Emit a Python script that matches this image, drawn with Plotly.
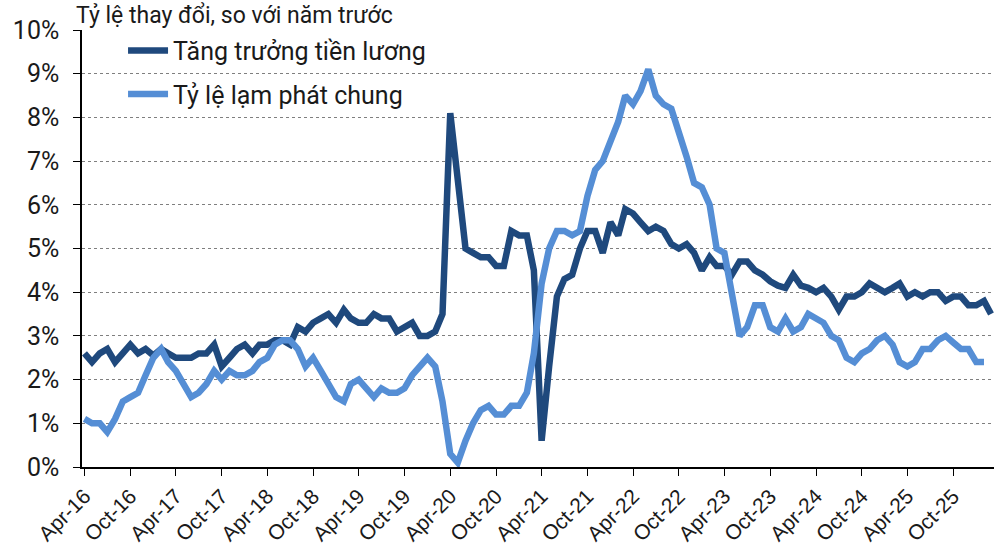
import pandas as pd
import plotly.graph_objects as go

start_month = "2016-04-01"

wage_growth = [
    2.6, 2.4, 2.6, 2.7, 2.4, 2.6, 2.8, 2.6, 2.7, 2.55, 2.7, 2.6,
    2.5, 2.5, 2.5, 2.6, 2.6, 2.8, 2.3, 2.5, 2.7, 2.8, 2.6, 2.8,
    2.8, 2.9, 2.9, 2.8, 3.2, 3.1, 3.3, 3.4, 3.5, 3.3, 3.6, 3.4,
    3.3, 3.3, 3.5, 3.4, 3.4, 3.1, 3.2, 3.3, 3.0, 3.0, 3.1, 3.5,
    8.1, 6.7, 5.0, 4.9, 4.8, 4.8, 4.6, 4.6, 5.4, 5.3, 5.3, 4.5,
    0.6, 2.3, 3.9, 4.3, 4.4, 5.0, 5.4, 5.4, 4.9, 5.6, 5.3, 5.9,
    5.8, 5.6, 5.4, 5.5, 5.4, 5.1, 5.0, 5.1, 4.9, 4.5, 4.8, 4.6,
    4.6, 4.4, 4.7, 4.7, 4.5, 4.4, 4.25, 4.15, 4.1, 4.4, 4.15, 4.1,
    4.0, 4.1, 3.9, 3.6, 3.9, 3.9, 4.0, 4.2, 4.1, 4.0, 4.1, 4.2,
    3.9, 4.0, 3.9, 4.0, 4.0, 3.8, 3.9, 3.9, 3.7, 3.7, 3.8, 3.5,
]

headline_inflation = [
    1.1, 1.0, 1.0, 0.8, 1.1, 1.5, 1.6, 1.7, 2.1, 2.5, 2.7, 2.4,
    2.2, 1.9, 1.6, 1.7, 1.9, 2.2, 2.0, 2.2, 2.1, 2.1, 2.2, 2.4,
    2.5, 2.8, 2.9, 2.9, 2.7, 2.3, 2.5, 2.2, 1.9, 1.6, 1.5, 1.9,
    2.0, 1.8, 1.6, 1.8, 1.7, 1.7, 1.8, 2.1, 2.3, 2.5, 2.3, 1.5,
    0.3, 0.1, 0.6, 1.0, 1.3, 1.4, 1.2, 1.2, 1.4, 1.4, 1.7, 2.6,
    4.2, 5.0, 5.4, 5.4, 5.3, 5.4, 6.2, 6.8, 7.0, 7.5, 7.9, 8.5,
    8.3, 8.6, 9.1, 8.5, 8.3, 8.2, 7.7, 7.1, 6.5, 6.4, 6.0, 5.0,
    4.9, 4.0, 3.0, 3.2, 3.7, 3.7, 3.2, 3.1, 3.4, 3.1, 3.2, 3.5,
    3.4, 3.3, 3.0, 2.9, 2.5, 2.4, 2.6, 2.7, 2.9, 3.0, 2.8, 2.4,
    2.3, 2.4, 2.7, 2.7, 2.9, 3.0, 2.85, 2.7, 2.7, 2.4, 2.4,
]

series_names = ["Tăng trưởng tiền lương", "Tỷ lệ lạm phát chung"]
series_colors = ["#1F497D", "#558ED5"]
y_title = "Tỷ lệ thay đổi, so với năm trước"

dates_wage = pd.date_range(start_month, periods=len(wage_growth), freq="MS")
dates_infl = pd.date_range(start_month, periods=len(headline_inflation), freq="MS")

fig = go.Figure()
fig.add_trace(go.Scatter(
    x=dates_wage, y=wage_growth, mode="lines", name=series_names[0],
    line=dict(color=series_colors[0], width=6.5), legendgroup="a",
))
fig.add_trace(go.Scatter(
    x=dates_infl, y=headline_inflation, mode="lines", name=series_names[1],
    line=dict(color=series_colors[1], width=6.5), legendgroup="b",
))

fig.update_layout(
    width=994, height=554,
    margin=dict(l=82, r=0, t=30, b=87),
    plot_bgcolor="white", paper_bgcolor="white",
    font=dict(family="Liberation Sans, Arial, sans-serif", color="#1a1a1a"),
    showlegend=True,
    legend=dict(
        x=0.045, y=1.005, xanchor="left", yanchor="top",
        bgcolor="rgba(0,0,0,0)", font=dict(size=25, family="Roboto, Liberation Sans, sans-serif", color="#1a1a1a"),
        tracegroupgap=8, traceorder="grouped", itemwidth=40,
    ),
    annotations=[dict(
        text=y_title, xref="paper", yref="paper", x=-0.009, y=1.0, yshift=-1,
        xanchor="left", yanchor="bottom", showarrow=False,
        font=dict(size=23, family="Roboto, Liberation Sans, sans-serif", color="#1a1a1a"),
    )],
)

fig.update_xaxes(
    type="date", automargin=False,
    range=["2016-03-22", "2026-03-13"],
    tick0="2016-04-01", dtick="M6", tickformat="%b-%y",
    tickangle=-45, tickfont=dict(size=21, family="Liberation Sans, Arial, sans-serif"),
    showgrid=False, showline=True, linecolor="black", linewidth=1.5,
    ticks="outside", ticklen=7, tickcolor="black", tickwidth=1,
)
fig.update_yaxes(
    automargin=False,
    range=[0, 10], dtick=1, ticksuffix="%",
    tickfont=dict(size=25, family="Roboto, Liberation Sans, sans-serif"),
    ticklabelstandoff=9,
    showgrid=True, gridcolor="#7f7f7f", griddash="dot", gridwidth=1,
    showline=True, linecolor="black", linewidth=1.5,
    ticks="outside", ticklen=7, tickcolor="black", zeroline=False,
)

fig.write_html(
    "out.html",
    config={"displayModeBar": False},
    post_script="document.body.style.margin='0';document.body.style.overflow='hidden';",
)
